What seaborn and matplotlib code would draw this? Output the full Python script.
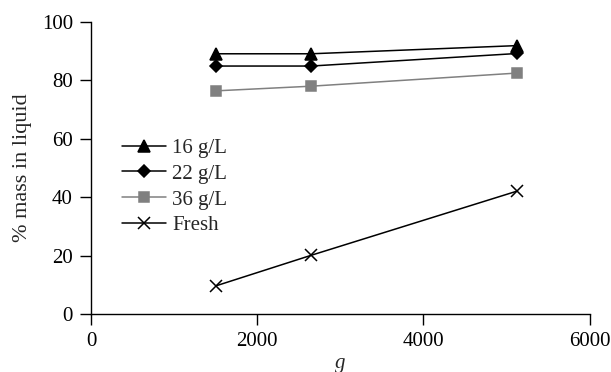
import pandas as pd
import matplotlib.pyplot as plt
import seaborn as sns

# values
g_values = [1500, 2650, 5130]
series_names = ['16 g/L', '22 g/L', '36 g/L', 'Fresh']
mass_16 = [89.1, 89.1, 91.9]
mass_22 = [84.9, 84.9, 89.2]
mass_36 = [76.4, 78.0, 82.5]
mass_fresh = [9.6, 20.1, 42.1]

x_ticks = [0, 2000, 4000, 6000]
y_ticks = [0, 20, 40, 60, 80, 100]

sns.set_style('ticks')
plt.rcParams['font.family'] = ['Liberation Serif', 'DejaVu Serif']

fig = plt.figure(figsize=(6.11, 3.72), dpi=100)
ax = fig.add_axes([0.149, 0.156, 0.816, 0.785])

# one call per series: seaborn won't mix filled and line-art markers
styles = {
    '16 g/L': dict(color='black', marker='^', markersize=8),
    '22 g/L': dict(color='black', marker='D', markersize=6),
    '36 g/L': dict(color='#808080', marker='s', markersize=7),
    'Fresh': dict(color='black', marker='x', markersize=8),
}
for name, vals in zip(series_names, [mass_16, mass_22, mass_36, mass_fresh]):
    df = pd.DataFrame({'g': g_values, 'mass': vals})
    st = styles[name]
    sns.lineplot(data=df, x='g', y='mass', label=name, linewidth=1.1, ax=ax,
                 markeredgecolor=st['color'], markeredgewidth=1.1, **st)

ax.set_xlim(0, 6000)
ax.set_ylim(0, 100)
ax.set_xticks(x_ticks)
ax.set_yticks(y_ticks)
ax.tick_params(labelsize=15, length=8, width=1, pad=5, color='black', labelcolor='black')
for s in ['left', 'bottom']:
    ax.spines[s].set_color('black')
    ax.spines[s].set_linewidth(1)
sns.despine(ax=ax)

ax.set_xlabel('g', fontsize=15, style='italic', labelpad=2)
ax.set_ylabel('% mass in liquid', fontsize=16, labelpad=7)

ax.legend(loc='upper left', bbox_to_anchor=(0.046, 0.63), frameon=False,
          fontsize=15, handlelength=2.1, handletextpad=0.3, labelspacing=0.3,
          borderaxespad=0)

plt.savefig('out.png', dpi=100)
